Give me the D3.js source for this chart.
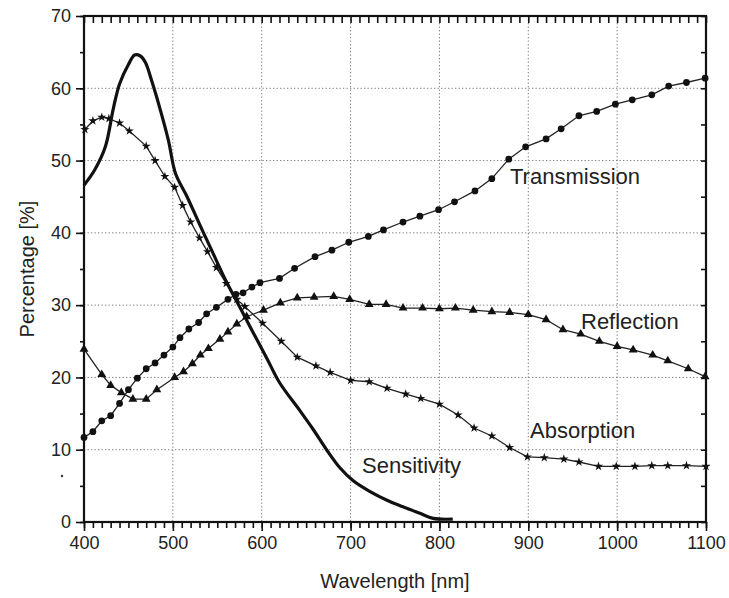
<!DOCTYPE html>
<html>
<head>
<meta charset="utf-8">
<script src="https://cdn.jsdelivr.net/npm/d3@7"></script>
<style>
  body { margin: 0; background: #fff; }
  svg text { font-family: "Liberation Sans", Arial, sans-serif; fill: #222; }
</style>
</head>
<body>
<svg id="chart" width="729" height="598"></svg>
<script>
// measured spectra: [wavelength nm, percent]
const transmission = [[400,11.7],[410,12.5],[420,14.0],[430,14.7],[440,16.4],[450,18.3],[460,19.9],[470,21.2],[480,22.0],[490,23.1],[500,24.2],[508,25.5],[518,26.7],[529,27.6],[538,28.8],[549,29.7],[562,30.8],[571,31.5],[579,31.7],[589,32.5],[598,33.1],[620,33.7],[637,35.1],[660,36.7],[679,37.6],[698,38.7],[720,39.5],[737,40.4],[759,41.5],[778,42.3],[799,43.2],[817,44.3],[840,45.8],[859,47.5],[878,50.2],[897,51.9],[920,53.0],[937,54.4],[957,56.2],[977,56.8],[998,57.8],[1017,58.4],[1039,59.1],[1058,60.3],[1078,60.8],[1099,61.4]];

const reflection = [[400,23.9],[420,20.4],[430,18.9],[442,17.9],[455,17.0],[470,17.0],[482,18.3],[502,20.0],[512,20.8],[522,21.9],[531,23.1],[540,24.0],[553,25.3],[562,26.3],[572,27.4],[583,28.4],[602,29.3],[621,30.3],[640,31.0],[659,31.1],[681,31.2],[699,30.8],[721,30.1],[740,30.1],[759,29.6],[781,29.6],[800,29.5],[818,29.6],[838,29.3],[859,29.1],[879,29.0],[900,28.7],[920,28.0],[939,26.6],[959,26.0],[980,25.0],[1000,24.3],[1018,23.8],[1040,23.1],[1057,22.3],[1080,21.2],[1099,20.1]];

const absorption = [[401,54.3],[410,55.5],[420,56.0],[428,55.8],[440,55.2],[451,54.1],[470,52.0],[480,50.0],[491,47.8],[502,46.3],[511,43.8],[520,41.5],[530,39.3],[539,37.4],[549,35.2],[560,33.0],[572,30.8],[581,29.8],[601,27.5],[622,25.0],[640,22.8],[661,21.6],[677,20.7],[700,19.6],[721,19.4],[741,18.5],[762,17.7],[779,17.1],[800,16.3],[821,14.8],[839,13.0],[859,11.9],[879,10.3],[899,9.0],[918,8.9],[940,8.7],[957,8.3],[979,7.7],[999,7.7],[1020,7.7],[1039,7.8],[1057,7.8],[1078,7.8],[1100,7.7]];

const sensitivity = [[400,46.6],[412,48.7],[424,51.9],[433,57.2],[440,60.6],[450,63.3],[457,64.6],[463,64.5],[469,63.6],[476,61.1],[485,57.4],[495,52.8],[503,48.2],[516,45.0],[530,41.2],[544,37.5],[560,33.3],[575,29.8],[590,26.3],[606,22.6],[620,19.3],[643,15.4],[658,12.8],[673,10.0],[688,7.5],[703,5.7],[722,4.2],[741,3.0],[759,2.1],[778,1.2],[793,0.5],[815,0.4]];

const seriesLabels = [
  { text: "Transmission", at: [510, 184] },
  { text: "Reflection", at: [581, 329] },
  { text: "Absorption", at: [530, 438] },
  { text: "Sensitivity", at: [362, 473] }
];

const xTicks = [400, 500, 600, 700, 800, 900, 1000, 1100];
const yTicks = [0, 10, 20, 30, 40, 50, 60, 70];

const svg = d3.select("#chart");
const plot = { left: 84, right: 706, top: 16, bottom: 522 };

const x = d3.scaleLinear().domain([400, 1100]).range([plot.left, plot.right]);
const y = d3.scaleLinear().domain([0, 70]).range([plot.bottom, plot.top]);

// dotted grid
const grid = svg.append("g").attr("stroke", "#7a7a7a").attr("stroke-width", 1).attr("stroke-dasharray", "1.3 2.2");
grid.selectAll(".gx").data(xTicks.slice(1, -1)).enter().append("line")
    .attr("x1", d => x(d)).attr("x2", d => x(d))
    .attr("y1", plot.top).attr("y2", plot.bottom);
grid.selectAll(".gy").data(yTicks.slice(1, -1)).enter().append("line")
    .attr("x1", plot.left).attr("x2", plot.right)
    .attr("y1", d => y(d)).attr("y2", d => y(d));

// axes: outward majors/minors on bottom and left, inward minors on top and right
const minorX = d3.range(400, 1101, 10);
const minorY = d3.range(0, 71, 5);

svg.append("g").attr("transform", `translate(0,${plot.bottom})`)
    .call(d3.axisBottom(x).tickValues(xTicks).tickFormat(d3.format("d")).tickSize(9).tickPadding(5));
svg.append("g").attr("transform", `translate(0,${plot.bottom})`)
    .call(d3.axisBottom(x).tickValues(minorX).tickFormat("").tickSize(6));

svg.append("g").attr("transform", `translate(0,${plot.top})`)
    .call(d3.axisBottom(x).tickValues(minorX).tickFormat("").tickSize(7));

svg.append("g").attr("transform", `translate(${plot.left},0)`)
    .call(d3.axisLeft(y).tickValues(yTicks).tickSize(8).tickPadding(5));
svg.append("g").attr("transform", `translate(${plot.left},0)`)
    .call(d3.axisLeft(y).tickValues(minorY).tickFormat("").tickSize(4));

svg.append("g").attr("transform", `translate(${plot.right},0)`)
    .call(d3.axisLeft(y).tickValues(minorY).tickFormat("").tickSize(5));

svg.selectAll(".domain").remove();
svg.selectAll(".tick line").attr("stroke", "#111").attr("stroke-width", 1.6);
svg.selectAll(".tick text").attr("font-size", 18).attr("fill", "#222");

// frame
svg.append("rect")
    .attr("x", plot.left).attr("y", plot.top)
    .attr("width", plot.right - plot.left).attr("height", plot.bottom - plot.top)
    .attr("fill", "none").attr("stroke", "#111").attr("stroke-width", 2.2);

const line = d3.line().x(d => x(d[0])).y(d => y(d[1]));

function drawSeries(data, symbol, size) {
    svg.append("path").datum(data)
        .attr("d", line)
        .attr("fill", "none").attr("stroke", "#222").attr("stroke-width", 1.3);
    svg.append("g").selectAll("path").data(data).enter().append("path")
        .attr("transform", d => `translate(${x(d[0])},${y(d[1])})`)
        .attr("d", d3.symbol().type(symbol).size(size))
        .attr("fill", "#111");
}

drawSeries(reflection, d3.symbolTriangle, 34);
drawSeries(absorption, d3.symbolStar, 26);
drawSeries(transmission, d3.symbolCircle, 36);

svg.append("path").datum(sensitivity)
    .attr("d", d3.line().x(d => x(d[0])).y(d => y(d[1])).curve(d3.curveCatmullRom))
    .attr("fill", "none").attr("stroke", "#111").attr("stroke-width", 3.2)
    .attr("stroke-linejoin", "round");

// curve labels
svg.selectAll(".series-label").data(seriesLabels).enter().append("text")
    .attr("class", "series-label")
    .attr("x", d => d.at[0]).attr("y", d => d.at[1])
    .attr("font-size", 22)
    .text(d => d.text);

// axis titles
svg.append("text")
    .attr("x", (plot.left + plot.right) / 2).attr("y", 588)
    .attr("text-anchor", "middle").attr("font-size", 20)
    .text("Wavelength [nm]");
svg.append("text")
    .attr("transform", `translate(34,${(plot.top + plot.bottom) / 2}) rotate(-90)`)
    .attr("text-anchor", "middle").attr("font-size", 20)
    .text("Percentage [%]");

// small speck left of the y axis
svg.append("circle").attr("cx", 62).attr("cy", 476).attr("r", 1.2).attr("fill", "#333");
</script>
</body>
</html>
